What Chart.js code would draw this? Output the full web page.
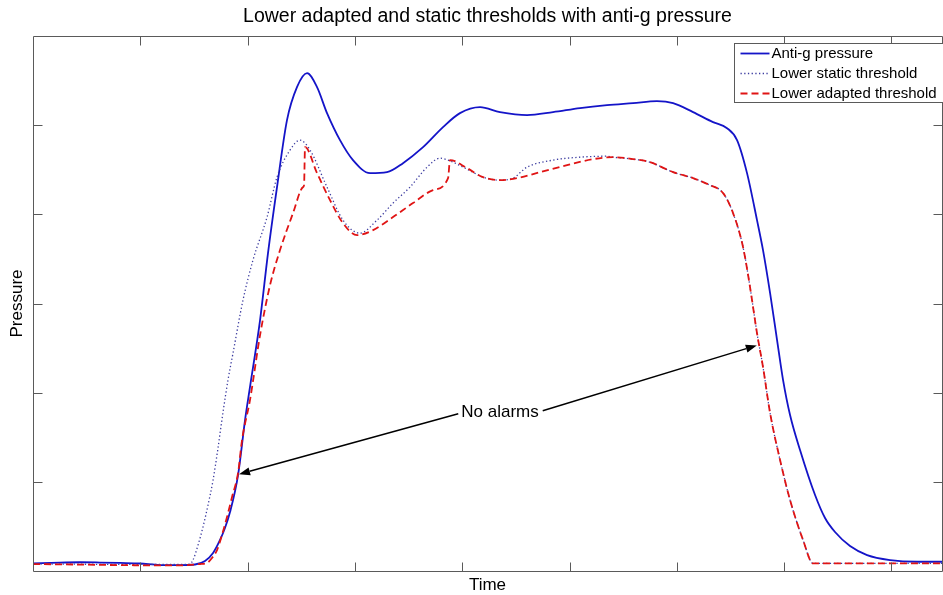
<!DOCTYPE html>
<html><head><meta charset="utf-8">
<script src="https://cdn.jsdelivr.net/npm/chart.js@4.4.1/dist/chart.umd.min.js"></script>
<style>html,body{margin:0;padding:0;background:#fff;}canvas{display:block;}</style>
</head><body>
<canvas id="c" width="943" height="595"></canvas>
<script>
// ---- data (time in arbitrary units, pressure in arbitrary units) ----
const seriesNames = ['Anti-g pressure', 'Lower static threshold', 'Lower adapted threshold'];

const antigTime = [0,0.252,0.438,0.624,0.811,0.997,1.184,1.370,1.510,1.603,1.678,1.743,1.789,1.836,1.911,1.976,2.022,2.116,2.190,2.274,2.367,2.460,2.554,2.647,2.740,2.861,2.982,3.141,3.299,3.448,3.635,3.821,3.979,4.166,4.352,4.604,4.846,5.098,5.349,5.592,5.815,5.965,6.151,6.337,6.468,6.561,6.654,6.747,6.803,6.869,6.934,6.990,7.055,7.148,7.288,7.381,7.474,7.614,7.773,7.987,8.239,8.471];
const antigPressure = [0.086,0.095,0.098,0.095,0.090,0.084,0.067,0.067,0.073,0.112,0.202,0.348,0.482,0.661,1.076,1.693,2.063,2.814,3.565,4.305,5.056,5.426,5.583,5.426,5.135,4.832,4.608,4.462,4.473,4.574,4.753,4.978,5.135,5.202,5.146,5.112,5.146,5.191,5.224,5.247,5.269,5.247,5.146,5.034,4.966,4.832,4.462,3.935,3.599,3.117,2.590,2.141,1.749,1.357,0.852,0.594,0.437,0.280,0.179,0.123,0.104,0.104];

const staticTime = [0,1.370,1.463,1.491,1.538,1.584,1.631,1.678,1.724,1.771,1.817,1.864,1.957,2.050,2.181,2.274,2.395,2.488,2.582,2.740,2.889,3.047,3.206,3.355,3.513,3.672,3.793,3.868,4.045,4.194,4.352,4.473,4.604,4.846,5.098,5.349,5.405,5.592,5.750,5.965,6.151,6.309,6.431,6.524,6.617,6.682,6.747,6.803,6.869,6.962,7.055,7.176,7.269,8.471];
const staticThreshold = [0.078,0.073,0.078,0.123,0.291,0.493,0.740,1.020,1.379,1.783,2.141,2.444,3.038,3.487,3.969,4.417,4.720,4.832,4.720,4.305,3.935,3.789,3.935,4.126,4.305,4.529,4.630,4.608,4.507,4.417,4.383,4.406,4.529,4.608,4.641,4.652,4.641,4.619,4.585,4.473,4.406,4.327,4.238,4.013,3.632,3.184,2.668,2.287,1.771,1.244,0.796,0.348,0.086,0.086];

const adaptedTime = [0,1.370,1.556,1.622,1.668,1.715,1.761,1.808,1.855,1.911,1.948,2.022,2.116,2.209,2.302,2.423,2.516,2.526,2.535,2.647,2.768,2.889,3.020,3.169,3.355,3.541,3.728,3.868,3.886,4.045,4.194,4.352,4.511,4.725,4.977,5.219,5.405,5.592,5.750,5.965,6.151,6.309,6.431,6.524,6.617,6.682,6.747,6.803,6.869,6.962,7.055,7.176,7.269,8.471];
const adaptedThreshold = [0.078,0.062,0.078,0.090,0.146,0.235,0.404,0.605,0.830,1.099,1.469,1.917,2.646,3.206,3.599,4.013,4.305,4.327,4.753,4.462,4.159,3.901,3.767,3.823,3.969,4.126,4.271,4.406,4.608,4.518,4.417,4.383,4.406,4.473,4.552,4.619,4.641,4.619,4.585,4.473,4.406,4.327,4.238,4.013,3.632,3.184,2.668,2.287,1.771,1.244,0.796,0.348,0.086,0.086];

const timeRange = [0, 8.471];
const pressureRange = [0, 6];
const tickStep = 1;

// annotation (in data units)
const noteText = 'No alarms';
const notePos = [4.352, 1.775];
const noteTips = [[1.92, 1.085], [6.745, 2.53]];

// ---- build ----
const toPts = (xs, ys) => xs.map((x, i) => ({x, y: ys[i]}));
const FONT = '"Liberation Sans", Arial, Helvetica, sans-serif';
const axisColor = '#5a5a5a';

const boxAndTicks = {
  id: 'boxAndTicks',
  afterDatasetsDraw(chart) {
    const {ctx, chartArea: a, scales: {x, y}} = chart;
    const L = Math.round(a.left) + 0.5, R = Math.round(a.right) + 0.5;
    const T = Math.round(a.top) + 0.5, B = Math.round(a.bottom) + 0.5;
    const len = 9;
    ctx.save();
    ctx.strokeStyle = axisColor; ctx.lineWidth = 1;
    ctx.beginPath();
    ctx.rect(L, T, R - L, B - T);
    x.ticks.forEach(t => {
      if (t.value <= timeRange[0] || t.value >= timeRange[1]) return;
      const px = Math.round(x.getPixelForValue(t.value)) + 0.5;
      ctx.moveTo(px, B); ctx.lineTo(px, B - len);
      ctx.moveTo(px, T); ctx.lineTo(px, T + len);
    });
    y.ticks.forEach(t => {
      if (t.value <= pressureRange[0] || t.value >= pressureRange[1]) return;
      const py = Math.round(y.getPixelForValue(t.value)) + 0.5;
      ctx.moveTo(L, py); ctx.lineTo(L + len, py);
      ctx.moveTo(R, py); ctx.lineTo(R - len, py);
    });
    ctx.stroke();
    ctx.restore();
  }
};

const arrowNote = {
  id: 'arrowNote',
  afterDraw(chart) {
    const {ctx, scales: {x, y}} = chart;
    ctx.save();
    ctx.font = '17px ' + FONT;
    ctx.fillStyle = '#000';
    ctx.textAlign = 'center'; ctx.textBaseline = 'middle';
    const cx = x.getPixelForValue(notePos[0]), cy = y.getPixelForValue(notePos[1]);
    ctx.fillText(noteText, cx, cy);
    const w = ctx.measureText(noteText).width;
    const tails = [[cx - w / 2 - 3, cy + 1], [cx + w / 2 + 4, cy - 2]];
    ctx.strokeStyle = '#000'; ctx.lineWidth = 1.5;
    noteTips.forEach((tp, i) => {
      const tx = x.getPixelForValue(tp[0]), ty = y.getPixelForValue(tp[1]);
      const [sx, sy] = tails[i];
      const ang = Math.atan2(ty - sy, tx - sx);
      const hl = 11, hw = 4;
      const bx = tx - hl * Math.cos(ang), by = ty - hl * Math.sin(ang);
      ctx.beginPath(); ctx.moveTo(sx, sy); ctx.lineTo(bx, by); ctx.stroke();
      ctx.beginPath();
      ctx.moveTo(tx, ty);
      ctx.lineTo(bx + hw * Math.sin(ang), by - hw * Math.cos(ang));
      ctx.lineTo(bx - hw * Math.sin(ang), by + hw * Math.cos(ang));
      ctx.closePath(); ctx.fill();
    });
    ctx.restore();
  }
};

const boxLegend = {
  id: 'boxLegend',
  afterDraw(chart) {
    const {ctx, chartArea: a} = chart;
    const x0 = Math.round(a.right) - 208 + 0.5, y0 = Math.round(a.top) + 7 + 0.5, w = 214, h = 59;
    ctx.save();
    ctx.fillStyle = '#fff'; ctx.fillRect(x0, y0, w, h);
    ctx.strokeStyle = axisColor; ctx.lineWidth = 1; ctx.strokeRect(x0, y0, w, h);
    ctx.font = '15px ' + FONT; ctx.textBaseline = 'middle'; ctx.fillStyle = '#000';
    chart.data.datasets.forEach((ds, i) => {
      const yy = y0 + 10 + i * 20;
      ctx.strokeStyle = ds.borderColor; ctx.lineWidth = ds.borderWidth;
      ctx.setLineDash(ds.borderDash || []);
      ctx.beginPath(); ctx.moveTo(x0 + 6, yy); ctx.lineTo(x0 + 35, yy); ctx.stroke();
      ctx.setLineDash([]);
      ctx.fillText(ds.label, x0 + 37, yy + 0.5);
    });
    ctx.restore();
  }
};

new Chart(document.getElementById('c'), {
  type: 'line',
  data: {
    datasets: [
      {label: seriesNames[0], data: toPts(antigTime, antigPressure), borderColor: '#1414c8', borderWidth: 1.8, order: 3},
      {label: seriesNames[1], data: toPts(staticTime, staticThreshold), borderColor: '#3c3ca0', borderWidth: 1.3, borderDash: [1.3, 2.4], order: 2},
      {label: seriesNames[2], data: toPts(adaptedTime, adaptedThreshold), borderColor: '#e01414', borderWidth: 1.8, borderDash: [7, 4], order: 1}
    ]
  },
  options: {
    responsive: false,
    devicePixelRatio: 1,
    animation: false,
    events: [],
    elements: {point: {radius: 0}, line: {fill: false, cubicInterpolationMode: 'monotone'}},
    layout: {padding: {left: 0, right: 1, top: 0, bottom: 0}},
    plugins: {
      legend: {display: false},
      tooltip: {enabled: false},
      title: {display: true, fullSize: false, text: 'Lower adapted and static thresholds with anti-g pressure',
        color: '#000', font: {family: FONT, size: 19.5, weight: 'normal'}, padding: {top: 5.3, bottom: 7.3}}
    },
    scales: {
      x: {type: 'linear', min: timeRange[0], max: timeRange[1],
        ticks: {display: false, stepSize: tickStep, includeBounds: false},
        grid: {display: false, drawTicks: false}, border: {display: false},
        title: {display: true, text: 'Time', color: '#000', font: {family: FONT, size: 17, lineHeight: 1.1}, padding: {top: 5.3, bottom: 0}}},
      y: {type: 'linear', min: pressureRange[0], max: pressureRange[1],
        ticks: {display: false, stepSize: tickStep},
        grid: {display: false, drawTicks: false}, border: {display: false},
        title: {display: true, text: 'Pressure', color: '#000', font: {family: FONT, size: 17}, padding: {top: 7, bottom: 5.6}}}
    }
  },
  plugins: [boxAndTicks, arrowNote, boxLegend]
});
</script>
</body></html>
